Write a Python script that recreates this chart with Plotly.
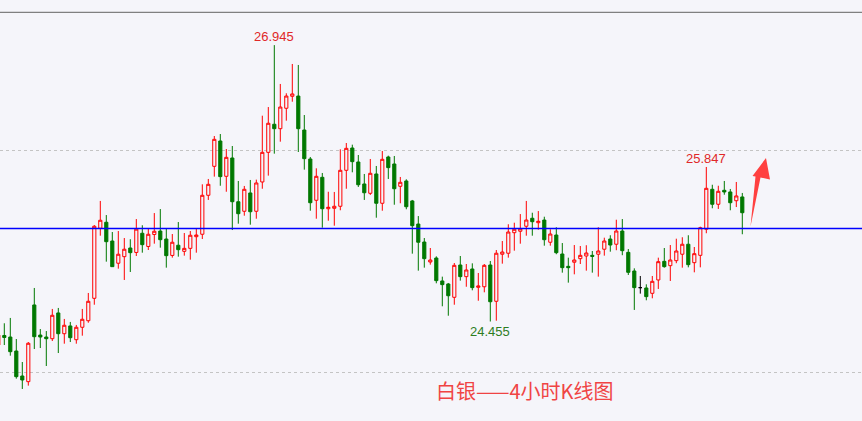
import plotly.graph_objects as go

# ---- data (silver, 4-hour candles) ----
opens = [24.243, 24.329, 24.315, 24.189, 23.964, 23.913, 24.604, 24.333, 24.315, 24.300,
         24.532, 24.345, 24.415, 24.291, 24.403, 24.462, 24.664, 25.295, 25.349, 25.180,
         24.980, 25.039, 25.117, 25.077, 25.250, 25.131, 25.239, 25.270, 25.198, 25.050,
         25.142, 25.087, 25.114, 25.219, 25.241, 25.592, 25.853, 26.081, 25.763, 25.928,
         25.534, 25.448, 25.613, 25.448, 25.712, 25.979, 26.232, 26.192, 26.376, 26.484,
         26.486, 26.180, 25.919, 25.547, 25.754, 25.471, 25.475, 25.493, 25.817, 26.018,
         25.892, 25.694, 25.610, 25.784, 25.520, 25.937, 25.874, 25.673, 25.721, 25.541,
         25.333, 25.171, 24.991, 25.027, 24.820, 24.793, 24.673, 24.964, 24.859, 24.928,
         24.763, 24.768, 24.964, 24.637, 25.061, 25.070, 25.255, 25.268, 25.313, 25.385,
         25.345, 25.369, 25.169, 25.234, 25.063, 24.952, 24.989, 25.021, 25.045, 25.051,
         25.061, 25.106, 25.198, 25.151, 25.270, 25.078, 24.910, 24.760, 24.757, 24.709,
         24.829, 24.997, 24.958, 25.003, 25.061, 25.151, 24.985, 25.051, 25.286, 25.646,
         25.511, 25.637, 25.622, 25.543, 25.577]
highs = [24.351, 24.439, 24.487, 24.297, 24.090, 24.270, 24.757, 24.387, 24.369, 24.568,
         24.577, 24.478, 24.451, 24.424, 24.568, 24.712, 25.324, 25.541, 25.414, 25.261,
         25.270, 25.207, 25.196, 25.378, 25.322, 25.293, 25.432, 25.468, 25.291, 25.243,
         25.351, 25.252, 25.270, 25.293, 25.691, 25.739, 26.126, 26.144, 26.009, 26.036,
         25.721, 25.676, 25.730, 25.733, 26.309, 26.387, 26.945, 26.595, 26.511, 26.775,
         26.766, 26.315, 25.937, 25.835, 25.793, 25.624, 25.622, 26.006, 26.063, 26.048,
         25.955, 25.784, 25.919, 25.856, 25.991, 25.949, 25.946, 25.757, 25.736, 25.550,
         25.405, 25.207, 25.117, 25.042, 24.859, 24.802, 24.982, 25.045, 24.973, 24.979,
         24.892, 24.973, 25.000, 25.099, 25.180, 25.331, 25.345, 25.423, 25.541, 25.435,
         25.450, 25.399, 25.286, 25.304, 25.162, 25.030, 25.144, 25.135, 25.142, 25.090,
         25.304, 25.210, 25.232, 25.372, 25.378, 25.108, 24.934, 24.865, 24.790, 24.865,
         25.030, 25.117, 25.144, 25.201, 25.214, 25.232, 25.126, 25.309, 25.847, 25.687,
         25.678, 25.721, 25.649, 25.712, 25.613]
lows = [24.225, 24.243, 24.147, 23.940, 23.847, 23.877, 24.207, 24.216, 24.054, 24.279,
        24.171, 24.255, 24.270, 24.255, 24.327, 24.444, 24.606, 25.228, 24.994, 24.946,
        24.931, 24.829, 24.901, 25.045, 25.075, 25.099, 25.156, 25.120, 24.940, 25.030,
        25.039, 25.048, 25.012, 25.075, 25.198, 25.550, 25.760, 25.678, 25.624, 25.279,
        25.336, 25.408, 25.327, 25.381, 25.651, 25.769, 25.967, 26.075, 26.264, 26.435,
        25.982, 25.823, 25.453, 25.381, 25.300, 25.363, 25.318, 25.457, 25.651, 25.799,
        25.667, 25.550, 25.595, 25.390, 25.453, 25.739, 25.507, 25.520, 25.466, 25.066,
        24.913, 24.940, 24.967, 24.799, 24.592, 24.507, 24.606, 24.823, 24.768, 24.736,
        24.642, 24.718, 24.455, 24.462, 24.976, 25.030, 25.093, 25.156, 25.228, 25.228,
        25.282, 25.138, 25.138, 25.061, 24.895, 24.805, 24.880, 24.973, 24.913, 24.895,
        24.859, 25.048, 25.084, 25.097, 25.052, 24.874, 24.559, 24.706, 24.646, 24.664,
        24.748, 24.940, 24.820, 24.980, 24.940, 24.943, 24.898, 24.943, 25.250, 25.475,
        25.469, 25.597, 25.457, 25.486, 25.241]
closes = [24.333, 24.311, 24.183, 23.958, 23.928, 24.259, 24.318, 24.315, 24.300, 24.511,
          24.345, 24.421, 24.309, 24.403, 24.475, 24.637, 25.313, 25.367, 25.174, 24.949,
          25.061, 25.106, 25.075, 25.287, 25.147, 25.241, 25.268, 25.192, 25.048, 25.169,
          25.102, 25.114, 25.232, 25.234, 25.592, 25.691, 26.096, 25.760, 25.934, 25.534,
          25.426, 25.646, 25.444, 25.703, 25.979, 26.241, 26.192, 26.387, 26.486, 26.505,
          26.192, 25.922, 25.525, 25.763, 25.471, 25.484, 25.493, 25.817, 26.015, 25.895,
          25.687, 25.615, 25.790, 25.520, 25.916, 25.841, 25.651, 25.709, 25.489, 25.318,
          25.169, 25.021, 25.009, 24.823, 24.787, 24.687, 24.961, 24.859, 24.919, 24.760,
          24.775, 24.961, 24.633, 25.070, 25.081, 25.261, 25.286, 25.290, 25.369, 25.354,
          25.358, 25.192, 25.243, 25.075, 24.940, 24.940, 25.009, 25.051, 25.072, 25.042,
          25.090, 25.180, 25.144, 25.270, 25.093, 24.898, 24.760, 24.760, 24.679, 24.817,
          24.994, 24.949, 25.009, 25.090, 25.151, 24.967, 25.066, 25.300, 25.655, 25.511,
          25.628, 25.622, 25.525, 25.586, 25.435]

support_level = 25.293
grid_levels_step = 2.0
peak_labels = [("26.945", 26.945, "#e02828", "bottom"),
               ("24.455", 24.455, "#2e7d1e", "top"),
               ("25.847", 25.847, "#e02828", "bottom")]
title_text = "白银——4小时K线图"

bars = list(range(len(opens)))

BG = "#f5f5fa"
UP = "#ff0000"
DOWN = "#007800"
W, H = 862, 421

normal = [i for i in bars if opens[i] != closes[i]]
doji = [i for i in bars if opens[i] == closes[i]]

fig = go.Figure()
fig.add_trace(go.Candlestick(
    x=[bars[i] for i in normal],
    open=[opens[i] for i in normal], high=[highs[i] for i in normal],
    low=[lows[i] for i in normal], close=[closes[i] for i in normal],
    increasing=dict(line=dict(color=UP, width=1), fillcolor=BG),
    decreasing=dict(line=dict(color=DOWN, width=1), fillcolor=DOWN),
    whiskerwidth=0, showlegend=False, hoverinfo="skip"))
if doji:
    fig.add_trace(go.Candlestick(
        x=[bars[i] for i in doji],
        open=[opens[i] for i in doji], high=[highs[i] for i in doji],
        low=[lows[i] for i in doji], close=[closes[i] for i in doji],
        increasing=dict(line=dict(color="#000000", width=1), fillcolor="#000000"),
        decreasing=dict(line=dict(color="#000000", width=1), fillcolor="#000000"),
        whiskerwidth=0, showlegend=False, hoverinfo="skip"))

# labels at the extreme points
for txt, val, col, anchor in peak_labels:
    idx = (highs.index(val) if anchor == "bottom" else lows.index(val))
    fig.add_annotation(x=bars[idx], y=val, text=txt, showarrow=False,
                       yanchor=anchor, yshift=(-1 if anchor == "bottom" else 0),
                       font=dict(family="Liberation Sans, Arial", size=13, color=col))

# horizontal support line
fig.add_shape(type="line", xref="paper", x0=0, x1=1, yref="y", y0=support_level, y1=support_level,
              line=dict(color="#0000ff", width=1.3))

# top border line
fig.add_shape(type="line", xref="paper", x0=0, x1=1, yref="paper", y0=1 - 12.3 / H, y1=1 - 12.3 / H,
              line=dict(color="#808080", width=1.3))

# red arrow (decoration), pixel -> paper coords
def P(px, py):
    return f"{px / W:.5f},{1 - py / H:.5f}"

arrow_pts = [(750.5, 226.5), (755.5, 176.5), (752.5, 176.0), (766.0, 158.0),
             (770.0, 179.5), (760.5, 177.5)]
path = "M " + " L ".join(P(*p) for p in arrow_pts) + " Z"
fig.add_shape(type="path", xref="paper", yref="paper", path=path,
              fillcolor="#ff4040", line=dict(width=0))

fig.add_annotation(xref="paper", yref="paper", x=525 / W, y=1 - 390 / H, text=title_text,
                   showarrow=False, xanchor="center", yanchor="middle",
                   font=dict(family="Noto Sans CJK SC", size=20, color="#f04444"))

x0 = (0 - 4.3) / 6 + 1
x1 = (W - 4.3) / 6 + 1
fig.update_layout(
    width=W, height=H, margin=dict(l=0, r=0, t=0, b=0),
    paper_bgcolor=BG, plot_bgcolor=BG, boxgap=0.25,
    xaxis=dict(range=[x0, x1], visible=False, rangeslider=dict(visible=False)),
    yaxis=dict(range=[26 - 271 / 111, 26 + 150 / 111], showticklabels=False, showgrid=True,
               dtick=grid_levels_step, tick0=0, gridcolor="#c4c4c4", griddash="3px,3px",
               gridwidth=1, zeroline=False, showline=False, ticks=""),
    showlegend=False,
)

fig.write_html(
    "out.html",
    config={"displayModeBar": False, "staticPlot": True},
    post_script=("document.body.style.margin='0';document.body.style.padding='0';"
                 "document.body.style.overflow='hidden';"
                 f"document.body.style.background='{BG}';"),
)
